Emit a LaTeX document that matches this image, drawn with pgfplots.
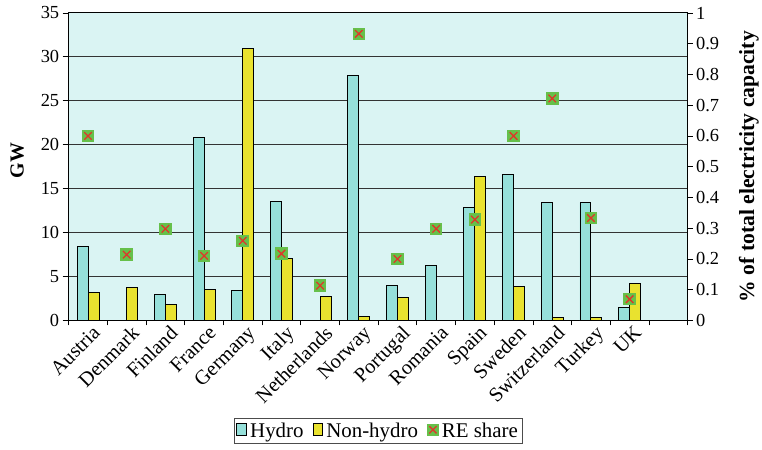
\documentclass[border=0pt]{standalone}
\usepackage{pgfplots}
\pgfplotsset{compat=1.18}
\usepackage{fontspec}
\setmainfont{Liberation Serif}
\definecolor{bgcyan}{HTML}{DAF4F3}
\definecolor{hydro}{HTML}{96E0DA}
\definecolor{nonhydro}{HTML}{E9E22F}
\definecolor{mgreen}{HTML}{66C04A}
\definecolor{mred}{HTML}{E0362A}
\pgfdeclareplotmark{rex}{%
  \pgfsetfillcolor{mgreen}%
  \pgfpathrectangle{\pgfpoint{-\pgfplotmarksize}{-\pgfplotmarksize}}{\pgfpoint{2\pgfplotmarksize}{2\pgfplotmarksize}}%
  \pgfusepath{fill}%
  \pgfsetstrokecolor{mred}\pgfsetlinewidth{1.3pt}%
  \pgfpathmoveto{\pgfpoint{-0.6\pgfplotmarksize}{-0.6\pgfplotmarksize}}%
  \pgfpathlineto{\pgfpoint{0.6\pgfplotmarksize}{0.6\pgfplotmarksize}}%
  \pgfpathmoveto{\pgfpoint{-0.6\pgfplotmarksize}{0.6\pgfplotmarksize}}%
  \pgfpathlineto{\pgfpoint{0.6\pgfplotmarksize}{-0.6\pgfplotmarksize}}%
  \pgfusepath{stroke}%
}
\begin{document}
\begin{tikzpicture}
\begin{axis}[
  at={(0pt,0pt)}, anchor=south west,
  scale only axis, width=622pt, height=309pt,
  xmin=-0.5, xmax=15.5, ymin=0, ymax=35,
  axis background/.style={fill=bgcyan},
  axis line style={black, line width=0.9pt},
  xtick={0,...,14},
  xticklabels={Austria,Denmark,Finland,France,Germany,Italy,Netherlands,Norway,Portugal,Romania,Spain,Sweden,Switzerland,Turkey,UK},
  minor xtick={-0.5,0.5,...,15.5},
  major x tick style={draw=none},
  minor tick length=5pt,
  tick align=outside,
  xtick pos=bottom,
  ytick pos=left,
  ytick={0,5,...,35},
  major tick length=6pt,
  tick style={black, line width=0.8pt},
  ymajorgrids,
  grid style={black!80, line width=0.9pt},
  xticklabel style={rotate=45, anchor=north east, inner sep=1pt, xshift=5pt, font=\fontsize{20.5}{21}\selectfont},
  yticklabel style={font=\fontsize{18.5}{20}\selectfont},
  /pgf/number format/assume math mode=true,
  ylabel={\textbf{GW}},
  ylabel style={font=\fontsize{20}{21}\selectfont, at={(axis description cs:-0.0997,0.52)}, anchor=north},
]
\addplot[ybar, bar width=11pt, bar shift=-5.5pt, fill=hydro, draw=black, line width=0.9pt]
  coordinates {(0,8.4) (2,3.0) (3,20.8) (4,3.4) (5,13.5) (7,27.9) (8,4.0) (9,6.3) (10,12.9) (11,16.6) (12,13.4) (13,13.4) (14,1.5)};
\addplot[ybar, bar width=11pt, bar shift=5.5pt, fill=nonhydro, draw=black, line width=0.9pt]
  coordinates {(0,3.2) (1,3.7) (2,1.85) (3,3.5) (4,30.95) (5,7.05) (6,2.75) (7,0.45) (8,2.6) (10,16.4) (11,3.85) (12,0.3) (13,0.3) (14,4.25)};
\end{axis}
\begin{axis}[
  at={(0pt,0pt)}, anchor=south west,
  scale only axis, width=622pt, height=309pt,
  xmin=-0.5, xmax=15.5, ymin=0, ymax=1,
  axis x line=none,
  axis y line*=right,
  axis line style={black, line width=0.9pt},
  ytick={0,0.1,...,1.01},
  yticklabel style={font=\fontsize{18.5}{20}\selectfont, /pgf/number format/fixed, /pgf/number format/precision=1},
  /pgf/number format/assume math mode=true,
  tick align=outside,
  major tick length=5pt,
  tick style={black, line width=0.8pt},
  ylabel={\textbf{\% of total electricity capacity}},
  ylabel style={font=\fontsize{21.7}{22}\selectfont, at={(axis description cs:1.077,0.5)}, anchor=north},
  legend style={at={(0.5,-0.317)}, anchor=north, legend columns=-1, draw=black!70, line width=0.8pt,
    font=\fontsize{21}{22}\selectfont, inner sep=2.5pt,
    /tikz/every odd column/.append style={column sep=1pt},
    /tikz/every even column/.append style={column sep=7pt}},
  legend cell align=left,
]
\addlegendimage{legend image code/.code={\draw[fill=hydro, draw=black, line width=0.8pt] (0pt,-5pt) rectangle (10pt,7pt);}}
\addlegendentry{Hydro}
\addlegendimage{legend image code/.code={\draw[fill=nonhydro, draw=black, line width=0.8pt] (0pt,-5pt) rectangle (10pt,7pt);}}
\addlegendentry{Non-hydro}
\addplot[only marks, mark=rex, mark size=6.3pt, legend image code/.code={\begin{scope}[shift={(5pt,1pt)}]\pgfplotsset{mark size=6pt}\pgfuseplotmark{rex}\end{scope}}]
  coordinates {(0,0.6) (1,0.214) (2,0.298) (3,0.21) (4,0.259) (5,0.217) (6,0.113) (7,0.932) (8,0.2) (9,0.298) (10,0.328) (11,0.6) (12,0.722) (13,0.333) (14,0.069)};
\addlegendentry{RE share}
\end{axis}
\path (-69pt,-130pt) rectangle (693pt,322pt);
\end{tikzpicture}
\end{document}
